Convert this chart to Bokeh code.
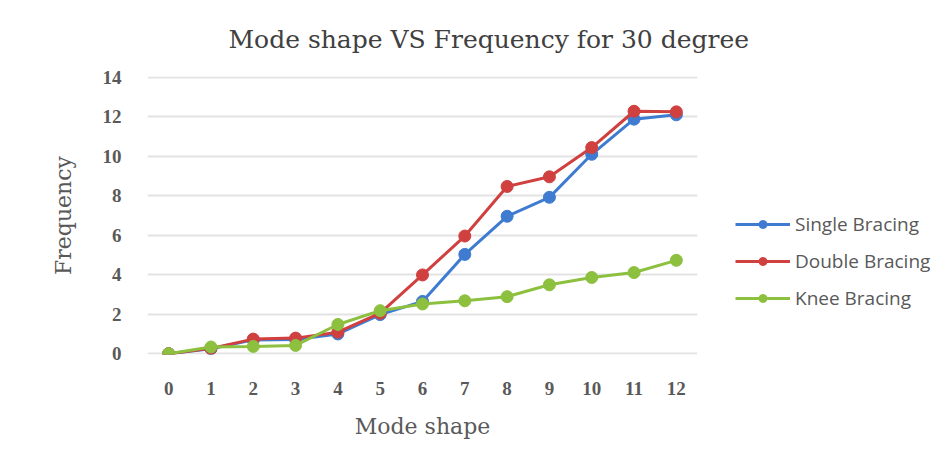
from bokeh.plotting import figure
from bokeh.models import Range1d, Legend, LegendItem, Title, FixedTicker
from bokeh.embed import file_html
from bokeh.resources import INLINE

mode_shape = [0, 1, 2, 3, 4, 5, 6, 7, 8, 9, 10, 11, 12]
single_bracing = [0, 0.25, 0.7, 0.72, 1.0, 1.98, 2.65, 5.03, 6.96, 7.92, 10.1, 11.88, 12.1]
double_bracing = [0, 0.27, 0.74, 0.79, 1.09, 2.05, 3.99, 5.96, 8.47, 8.96, 10.44, 12.28, 12.25]
knee_bracing = [0, 0.34, 0.37, 0.42, 1.48, 2.18, 2.52, 2.68, 2.89, 3.49, 3.86, 4.11, 4.73]
y_ticks = [0, 2, 4, 6, 8, 10, 12, 14]

series = [
    ("Single Bracing", single_bracing, "#3F7BD0"),
    ("Double Bracing", double_bracing, "#D0403F"),
    ("Knee Bracing", knee_bracing, "#8DC03F"),
]

p = figure(frame_width=550, frame_height=278, output_backend="svg", toolbar_location=None,
           x_range=Range1d(-0.5, 12.5), y_range=Range1d(-0.04, 14.04),
           min_border_left=147, min_border_right=239, min_border_top=75, min_border_bottom=90)
p.title = None
p.outline_line_color = None
p.border_fill_color = "white"
p.background_fill_color = "white"

serif = "DejaVu Serif"
p.add_layout(Title(text="Mode shape VS Frequency for 30 degree", align="left", offset=81,
                   text_font=serif, text_font_size="25px", text_font_style="normal",
                   text_color="#404040", standoff=45), "above")

p.xaxis.ticker = FixedTicker(ticks=mode_shape)
p.yaxis.ticker = FixedTicker(ticks=y_ticks)
for ax in (p.xaxis[0], p.yaxis[0]):
    ax.axis_line_color = None
    ax.major_tick_line_color = None
    ax.minor_tick_line_color = None
    ax.major_label_text_font = "Liberation Serif"
    ax.major_label_text_font_style = "bold"
    ax.major_label_text_font_size = "19px"
    ax.major_label_text_color = "#595959"
    ax.axis_label_text_font = serif
    ax.axis_label_text_font_style = "normal"
    ax.axis_label_text_font_size = "22px"
    ax.axis_label_text_color = "#595959"
p.xaxis.axis_label = "Mode shape"
p.yaxis.axis_label = "Frequency"
p.xaxis.major_label_standoff = 21
p.yaxis.major_label_standoff = 20
p.xaxis.axis_label_standoff = 16
p.yaxis.axis_label_standoff = 24

p.xgrid.grid_line_color = None
p.ygrid.grid_line_color = "#E3E3E3"
p.ygrid.grid_line_width = 2

items = []
for name, vals, color in series:
    l = p.line(mode_shape, vals, line_color=color, line_width=3)
    c = p.scatter(mode_shape, vals, size=12, fill_color=color, line_color=color)
    items.append(LegendItem(label=name, renderers=[l, c]))

legend = Legend(items=items, location=(38, 43), glyph_width=55, glyph_height=20,
                spacing=11, label_text_font="Open Sans", label_text_font_size="19px",
                label_text_color="#595959", border_line_color=None,
                background_fill_alpha=0, label_standoff=5, padding=0, margin=0)
p.add_layout(legend, "right")

open("out.html", "w").write(file_html(p, INLINE))
